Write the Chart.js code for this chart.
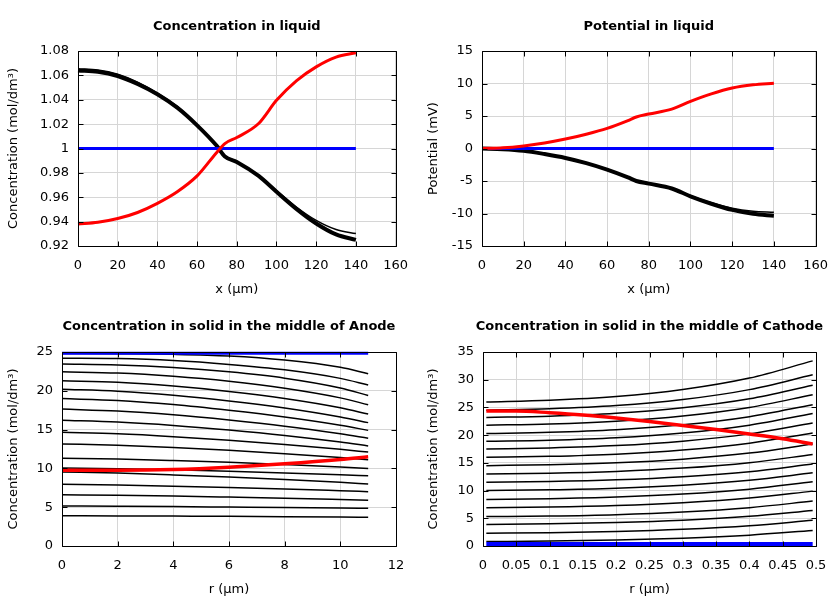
<!DOCTYPE html>
<html lang="en">
<head>
<meta charset="UTF-8">
<title>Concentration and potential</title>
<script src="https://cdn.jsdelivr.net/npm/chart.js"></script>
<style>
  body { margin: 0; background: #fff; }
  #wrap { position: relative; width: 840px; height: 600px; }
  #wrap canvas { position: absolute; }
</style>
</head>
<body>
<div id="wrap">
  <canvas id="liquidConc" width="420" height="300" style="left:0;top:0"></canvas>
  <canvas id="liquidPot" width="420" height="300" style="left:420px;top:0"></canvas>
  <canvas id="anode" width="420" height="300" style="left:0;top:300px"></canvas>
  <canvas id="cathode" width="420" height="300" style="left:420px;top:300px"></canvas>
</div>
<script>
// --- liquid phase, x in µm
const liquidX = [0, 10, 20, 30, 40, 50, 60, 70, 74, 80, 91, 100, 110, 120, 130, 140];
const liquidEnds = [0, 140];

const concRed = [0.938, 0.9395, 0.9425, 0.9475, 0.955, 0.9645, 0.9775, 0.997, 1.004, 1.009, 1.0205, 1.0395, 1.0555, 1.067, 1.075, 1.0785];
const concBlack = [1.064, 1.063, 1.0595, 1.053, 1.0445, 1.0335, 1.019, 1.002, 0.9935, 0.989, 0.9775, 0.9645, 0.9505, 0.9385, 0.9295, 0.925];
const concBlackLate = [1.0655, 1.0645, 1.061, 1.0545, 1.0455, 1.0345, 1.0195, 1.0025, 0.994, 0.9895, 0.978, 0.9655, 0.952, 0.941, 0.9335, 0.9302];
const concBlue = [1, 1];

const potRed = [0, 0.1, 0.4, 0.85, 1.45, 2.2, 3.1, 4.3, 4.85, 5.3, 6.05, 7.25, 8.4, 9.3, 9.8, 10.05];
const potBlack = [0, -0.1, -0.35, -0.85, -1.45, -2.25, -3.25, -4.45, -5.0, -5.4, -6.15, -7.35, -8.5, -9.45, -10.05, -10.35];
const potBlackLate = [0, -0.1, -0.35, -0.85, -1.4, -2.2, -3.2, -4.4, -4.95, -5.35, -6.1, -7.25, -8.35, -9.2, -9.65, -9.8];
const potBlue = [0, 0];

// --- anode particle, r in µm
const anodeR = [0, 2, 4, 6, 8, 10, 11];
const anodeEnds = [0, 11];
const anodeBlack = [
  [24.8, 24.77, 24.7, 24.49, 23.97, 23.03, 22.2],
  [24.2, 24.15, 23.9, 23.4, 22.7, 21.6, 20.75],
  [23.45, 23.33, 23.0, 22.44, 21.63, 20.37, 19.4],
  [22.45, 22.28, 21.86, 21.22, 20.33, 19.09, 18.2],
  [21.3, 21.09, 20.61, 19.92, 19.02, 17.82, 17.0],
  [20.2, 19.94, 19.43, 18.7, 17.79, 16.63, 15.9],
  [19.0, 18.75, 18.22, 17.48, 16.62, 15.56, 14.9],
  [17.65, 17.39, 16.9, 16.23, 15.44, 14.46, 13.9],
  [16.2, 15.97, 15.54, 14.95, 14.25, 13.4, 12.9],
  [14.65, 14.45, 14.09, 13.63, 13.09, 12.46, 12.1],
  [13.15, 12.99, 12.7, 12.33, 11.9, 11.39, 11.1],
  [11.3, 11.2, 11.01, 10.78, 10.51, 10.18, 10.0],
  [10.05, 9.97, 9.82, 9.63, 9.42, 9.18, 9.05],
  [9.55, 9.4, 9.16, 8.88, 8.57, 8.2, 8.0],
  [7.95, 7.85, 7.71, 7.54, 7.35, 7.12, 7.0],
  [6.6, 6.53, 6.43, 6.3, 6.16, 5.99, 5.9],
  [5.15, 5.12, 5.08, 5.02, 4.96, 4.89, 4.85],
  [3.9, 3.88, 3.85, 3.82, 3.78, 3.73, 3.7]
];
const anodeRed = [9.75, 9.75, 9.85, 10.15, 10.6, 11.15, 11.5];
const anodeBlue = [24.85, 24.85];

// --- cathode particle, r in µm
const cathodeR = [0.005, 0.1, 0.2, 0.3, 0.4, 0.495];
const cathodeEnds = [0.005, 0.495];
const cathodeBlack = [
  [0.8, 0.88, 1.06, 1.4, 1.96, 2.8],
  [2.3, 2.39, 2.61, 3.01, 3.66, 4.65],
  [3.9, 4.0, 4.23, 4.65, 5.35, 6.4],
  [5.3, 5.41, 5.66, 6.14, 6.92, 8.1],
  [6.9, 7.02, 7.29, 7.8, 8.64, 9.9],
  [8.4, 8.53, 8.82, 9.36, 10.26, 11.6],
  [10.0, 10.13, 10.42, 10.96, 11.86, 13.2],
  [11.5, 11.63, 11.93, 12.49, 13.41, 14.8],
  [13.0, 13.14, 13.46, 14.05, 15.03, 16.5],
  [14.5, 14.66, 15.01, 15.67, 16.76, 18.4],
  [16.0, 16.18, 16.57, 17.32, 18.55, 20.4],
  [17.5, 17.69, 18.11, 18.91, 20.23, 22.2],
  [18.9, 19.1, 19.55, 20.4, 21.8, 23.9],
  [20.3, 20.51, 20.98, 21.86, 23.32, 25.5],
  [21.8, 22.02, 22.52, 23.45, 24.99, 27.3],
  [23.2, 23.43, 23.95, 24.94, 26.56, 29.0],
  [24.5, 24.76, 25.33, 26.42, 28.21, 30.9],
  [26.0, 26.3, 26.96, 28.22, 30.29, 33.4]
];
const cathodeRedR = [0.005, 0.05, 0.1, 0.15, 0.2, 0.25, 0.3, 0.35, 0.4, 0.45, 0.495];
const cathodeRed = [24.35, 24.35, 24.05, 23.65, 23.1, 22.45, 21.75, 21.0, 20.2, 19.35, 18.4];
const cathodeBlue = [0.36, 0.36];

Chart.defaults.font.family = '"DejaVu Sans", sans-serif';
Chart.defaults.font.size = 13;
Chart.defaults.color = '#000';

function line(xs, ys, color, width) {
  return {
    data: xs.map((x, i) => ({ x: x, y: ys[i] })),
    borderColor: color,
    borderWidth: width,
    pointRadius: 0,
    fill: false,
    clip: false,
    cubicInterpolationMode: 'monotone'
  };
}

// border box, inward tick marks and the panel title
const frame = {
  id: 'frame',
  afterDraw(chart) {
    const { ctx, chartArea: a, scales } = chart;
    const L = Math.round(a.left) + 0.5, R = Math.round(a.right) + 0.5;
    const T = Math.round(a.top) + 0.5, B = Math.round(a.bottom) + 0.5;
    ctx.save();
    ctx.strokeStyle = '#000';
    ctx.lineWidth = 1;
    ctx.beginPath();
    scales.x.ticks.forEach(t => {
      const p = Math.round(scales.x.getPixelForValue(t.value)) + 0.5;
      ctx.moveTo(p, B); ctx.lineTo(p, B - 5);
      ctx.moveTo(p, T); ctx.lineTo(p, T + 5);
    });
    scales.y.ticks.forEach(t => {
      const p = Math.round(scales.y.getPixelForValue(t.value)) + 0.5;
      ctx.moveTo(L, p); ctx.lineTo(L + 5, p);
      ctx.moveTo(R, p); ctx.lineTo(R - 5, p);
    });
    ctx.rect(L, T, R - L, B - T);
    ctx.stroke();
    ctx.fillStyle = '#000';
    ctx.font = 'bold 13px "DejaVu Sans"';
    ctx.textAlign = 'center';
    ctx.textBaseline = 'middle';
    ctx.fillText(chart.options.plugins.frame.title, (a.left + a.right) / 2, 27);
    ctx.restore();
  }
};

const label = v => String(+v.toFixed(4));

function makeChart(id, c) {
  new Chart(document.getElementById(id), {
    type: 'line',
    data: { datasets: c.datasets },
    options: {
      responsive: false,
      animation: false,
      devicePixelRatio: 1,
      events: [],
      layout: { padding: { top: c.top, right: 24, left: 0, bottom: 0 } },
      plugins: {
        legend: { display: false },
        tooltip: { enabled: false },
        frame: { title: c.title }
      },
      scales: {
        x: {
          type: 'linear', min: c.xMin, max: c.xMax,
          grid: { color: '#d6d6d6', drawTicks: false },
          border: { display: false },
          ticks: { stepSize: c.xStep, padding: 12, autoSkip: false, maxRotation: 0, minRotation: 0, callback: label },
          title: { display: true, text: c.xTitle, padding: { top: 0, bottom: 3 } },
          afterFit: s => { s.height = 54; }
        },
        y: {
          type: 'linear', min: c.yMin, max: c.yMax,
          grid: { color: '#d6d6d6', drawTicks: false },
          border: { display: false },
          ticks: { stepSize: c.yStep, padding: 9, callback: label },
          title: { display: true, text: c.yTitle, padding: { top: 6, bottom: 0 } },
          afterFit: s => { s.width = c.yWidth; }
        }
      }
    },
    plugins: [frame]
  });
}

makeChart('liquidConc', {
  title: 'Concentration in liquid',
  top: 51, yWidth: 78,
  xMin: 0, xMax: 160, xStep: 20, xTitle: 'x (µm)',
  yMin: 0.92, yMax: 1.08, yStep: 0.02, yTitle: 'Concentration (mol/dm³)',
  datasets: [
    line(liquidX, concRed, '#ff0000', 3),
    line(liquidEnds, concBlue, '#0000ff', 3),
    line(liquidX, concBlackLate, '#000', 1.5),
    line(liquidX, concBlack, '#000', 4)
  ]
});

makeChart('liquidPot', {
  title: 'Potential in liquid',
  top: 51, yWidth: 62,
  xMin: 0, xMax: 160, xStep: 20, xTitle: 'x (µm)',
  yMin: -15, yMax: 15, yStep: 5, yTitle: 'Potential (mV)',
  datasets: [
    line(liquidX, potRed, '#ff0000', 3),
    line(liquidEnds, potBlue, '#0000ff', 3),
    line(liquidX, potBlackLate, '#000', 1.5),
    line(liquidX, potBlack, '#000', 4)
  ]
});

makeChart('anode', {
  title: 'Concentration in solid in the middle of Anode',
  top: 52, yWidth: 62,
  xMin: 0, xMax: 12, xStep: 2, xTitle: 'r (µm)',
  yMin: 0, yMax: 25, yStep: 5, yTitle: 'Concentration (mol/dm³)',
  datasets: [
    line(anodeR, anodeRed, '#ff0000', 3.5),
    line(anodeEnds, anodeBlue, '#0000ff', 3)
  ].concat(anodeBlack.map(v => line(anodeR, v, '#000', 1.5)))
});

makeChart('cathode', {
  title: 'Concentration in solid in the middle of Cathode',
  top: 52, yWidth: 63,
  xMin: 0, xMax: 0.5, xStep: 0.05, xTitle: 'r (µm)',
  yMin: 0, yMax: 35, yStep: 5, yTitle: 'Concentration (mol/dm³)',
  datasets: [
    line(cathodeRedR, cathodeRed, '#ff0000', 3.5),
    line(cathodeEnds, cathodeBlue, '#0000ff', 4)
  ].concat(cathodeBlack.map(v => line(cathodeR, v, '#000', 1.5)))
});
</script>
</body>
</html>
